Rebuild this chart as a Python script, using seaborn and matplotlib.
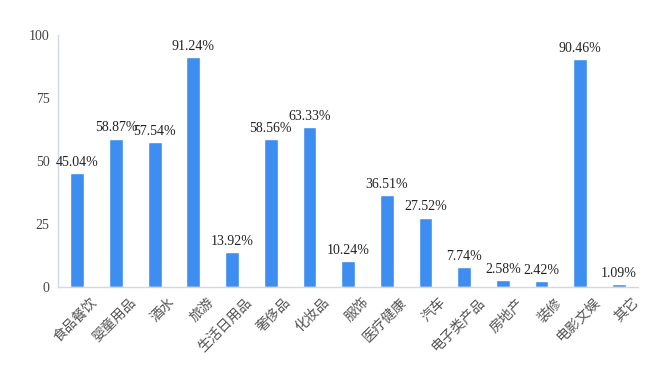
import matplotlib
matplotlib.use("Agg")
import matplotlib.pyplot as plt
import matplotlib.transforms as mtransforms
import seaborn as sns
import pandas as pd

categories = ["食品餐饮", "婴童用品", "酒水", "旅游", "生活日用品", "奢侈品", "化妆品", "服饰",
              "医疗健康", "汽车", "电子类产品", "房地产", "装修", "电影文娱", "其它"]
values = [45.04, 58.87, 57.54, 91.24, 13.92, 58.56, 63.33, 10.24,
          36.51, 27.52, 7.74, 2.58, 2.42, 90.46, 1.09]
yticks = [0, 25, 50, 75, 100]

sns.set_theme(style="white")
plt.rcParams['font.family'] = ['Liberation Serif', 'Noto Sans CJK SC', 'DejaVu Sans']

df = pd.DataFrame({"cat": categories, "val": values})
fig = plt.figure(figsize=(6.6, 3.92), dpi=100)
ax = fig.add_axes([0.088, 0.268, 0.879, 0.643])
sns.barplot(data=df, x="cat", y="val", color="#3d8ef0", width=0.36, ax=ax, saturation=1)
ax.set_xlim(-0.5, len(categories) - 0.5)
ax.set_ylim(0, 100)
ax.set_yticks(yticks)
ax.set_yticklabels([str(t) for t in yticks], fontsize=10, color="#444444")
ax.set_xlabel("")
ax.set_ylabel("")
ax.set_xticks(range(len(categories)))
ax.set_xticklabels(categories, rotation=45, ha="right", rotation_mode="anchor",
                   fontsize=10, color="#555555", family=['Noto Sans CJK SC', 'DejaVu Sans'])
ax.tick_params(axis="both", length=0, pad=6)
offset = mtransforms.ScaledTranslation(13 / 100, 0, fig.dpi_scale_trans)
for lbl in ax.get_xticklabels():
    lbl.set_transform(lbl.get_transform() + offset)
for s in ["top", "right"]:
    ax.spines[s].set_visible(False)
for s in ["left", "bottom"]:
    ax.spines[s].set_color("#d0d8e8")
    ax.spines[s].set_linewidth(1)
for c in ax.containers:
    ax.bar_label(c, labels=[f"{v:.2f}%" for v in values], padding=3, fontsize=10, color="#222222")
fig.savefig("out.png", dpi=100)
